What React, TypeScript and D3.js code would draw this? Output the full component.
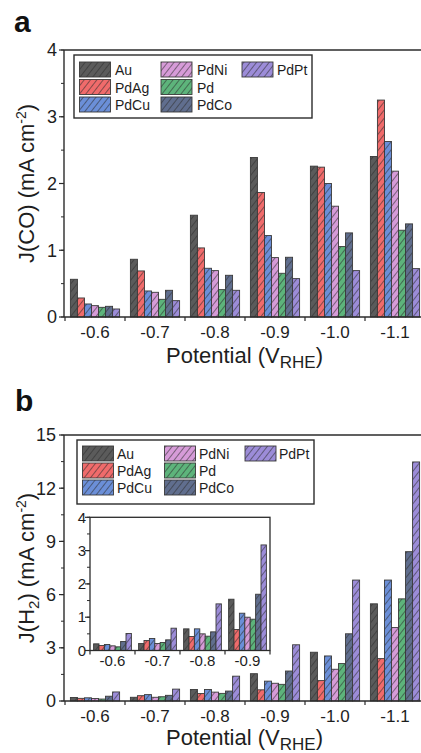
import React from "react";
import * as d3 from "d3";

const potentials = ["-0.6", "-0.7", "-0.8", "-0.9", "-1.0", "-1.1"];
const insetPotentials = ["-0.6", "-0.7", "-0.8", "-0.9"];
const seriesNames = ["Au", "PdAg", "PdCu", "PdNi", "Pd", "PdCo", "PdPt"];
const seriesColors = ["#5b5b5b", "#f06b6b", "#6b8fd8", "#d69bd8", "#5db47b", "#606e8e", "#9c8cd8"];

// J(CO) values, mA cm-2
const coAu = [0.565, 0.865, 1.525, 2.39, 2.26, 2.405];
const coPdAg = [0.285, 0.69, 1.035, 1.865, 2.245, 3.25];
const coPdCu = [0.195, 0.39, 0.73, 1.22, 2.0, 2.63];
const coPdNi = [0.17, 0.37, 0.695, 0.89, 1.66, 2.185];
const coPd = [0.145, 0.265, 0.41, 0.655, 1.055, 1.3];
const coPdCo = [0.16, 0.4, 0.625, 0.895, 1.26, 1.395];
const coPdPt = [0.12, 0.245, 0.4, 0.575, 0.695, 0.725];

// J(H2) values, mA cm-2
const h2Au = [0.2, 0.21, 0.65, 1.54, 2.75, 5.48];
const h2PdAg = [0.15, 0.3, 0.42, 0.63, 1.15, 2.39];
const h2PdCu = [0.18, 0.36, 0.65, 1.12, 2.54, 6.82];
const h2PdNi = [0.14, 0.21, 0.5, 1.0, 1.79, 4.14];
const h2Pd = [0.11, 0.24, 0.43, 0.94, 2.11, 5.76];
const h2PdCo = [0.27, 0.32, 0.56, 1.69, 3.79, 8.42];
const h2PdPt = [0.51, 0.67, 1.4, 3.17, 6.82, 13.48];

const coTicks = [0, 1, 2, 3, 4];
const h2Ticks = [0, 3, 6, 9, 12, 15];
const insetTicks = [0, 1, 2, 3, 4];

const coSeries = [coAu, coPdAg, coPdCu, coPdNi, coPd, coPdCo, coPdPt];
const h2Series = [h2Au, h2PdAg, h2PdCu, h2PdNi, h2Pd, h2PdCo, h2PdPt];

const FONT = "'Liberation Sans', Arial, Helvetica, sans-serif";
const AX = "#2b2b2b";
const TXT = "#1e1e1e";

function Bars({ cats, series, x, y, frac }) {
  const band = x.bandwidth();
  const inner = d3
    .scaleBand()
    .domain(seriesNames)
    .range([(band * (1 - frac)) / 2, band - (band * (1 - frac)) / 2])
    .padding(0);
  return (
    <g>
      {cats.map((c, ci) =>
        seriesNames.map((s, si) => {
          const v = series[si][ci];
          const x0 = (x(c) as number) + (inner(s) as number);
          const y0 = y(v);
          return (
            <rect
              key={c + s}
              x={x0}
              y={y0}
              width={inner.bandwidth()}
              height={y(0) - y0}
              fill={`url(#hatch${si})`}
              stroke="#3a3a3a"
              strokeWidth={0.9}
            />
          );
        })
      )}
    </g>
  );
}

function YAxis({ y, ticks, x0, fontSize, labelX, minorStep }) {
  const dom = y.domain();
  const minors = d3.range(dom[0], dom[1] + 1e-9, minorStep);
  return (
    <g>
      {minors.map((t) => (
        <line key={"m" + t} x1={x0 - 3} x2={x0} y1={y(t)} y2={y(t)} stroke={AX} strokeWidth={1} />
      ))}
      {ticks.map((t) => (
        <g key={t}>
          <line x1={x0 - 5} x2={x0} y1={y(t)} y2={y(t)} stroke={AX} strokeWidth={1.2} />
          <text
            x={labelX}
            y={y(t)}
            dy="0.35em"
            textAnchor="end"
            fontSize={fontSize}
            fontFamily={FONT}
            fill={TXT}
          >
            {t}
          </text>
        </g>
      ))}
    </g>
  );
}

function XAxis({ x, cats, y0, fontSize, labelY }) {
  const band = x.bandwidth();
  const r = x.range();
  const bounds = d3.range(0, cats.length + 1).map((i) => r[0] + i * band);
  return (
    <g>
      {bounds.map((b, i) => (
        <line key={i} x1={b} x2={b} y1={y0} y2={y0 + 4} stroke={AX} strokeWidth={1.2} />
      ))}
      {cats.map((c) => (
        <text
          key={c}
          x={(x(c) as number) + band / 2}
          y={labelY}
          textAnchor="middle"
          fontSize={fontSize}
          fontFamily={FONT}
          fill={TXT}
        >
          {c}
        </text>
      ))}
    </g>
  );
}

function Legend({ x, y, w, h, colX, textX, rowY }) {
  const cols = [
    [0, 1, 2],
    [3, 4, 5],
    [6],
  ];
  return (
    <g>
      <rect x={x} y={y} width={w} height={h} fill="white" stroke={AX} strokeWidth={1.4} />
      {cols.map((col, ci) =>
        col.map((si, ri) => (
          <g key={si}>
            <rect
              x={colX[ci]}
              y={rowY[ri]}
              width={31}
              height={15}
              fill={`url(#hatch${si})`}
              stroke="#3a3a3a"
              strokeWidth={0.9}
            />
            <text
              x={textX[ci]}
              y={rowY[ri] + 13}
              fontSize={14}
              fontFamily={FONT}
              fill={TXT}
            >
              {seriesNames[si]}
            </text>
          </g>
        ))
      )}
    </g>
  );
}

export default function App() {
  const W = 421;
  const H = 753;
  const left = 64;
  const right = 425;

  // panel a
  const xa = d3.scaleBand().domain(potentials).range([left + 1, right]).padding(0);
  const ya = d3.scaleLinear().domain([0, 4]).range([317, 50]);

  // panel b
  const xb = d3.scaleBand().domain(potentials).range([left + 1, right]).padding(0);
  const yb = d3.scaleLinear().domain([0, 15]).range([701, 435]);

  // inset
  const xi = d3.scaleBand().domain(insetPotentials).range([90, 270]).padding(0);
  const yi = d3.scaleLinear().domain([0, 4]).range([650.5, 517.3]);
  const h2Inset = h2Series.map((s) => s.slice(0, insetPotentials.length));

  return (
    <svg
      width={W}
      height={H}
      style={{ position: "absolute", left: 0, top: 0, background: "white" }}
    >
      <defs>
        {seriesColors.map((c, i) => (
          <pattern
            key={i}
            id={`hatch${i}`}
            patternUnits="userSpaceOnUse"
            width={5}
            height={5}
            patternTransform="rotate(38)"
          >
            <rect width={5} height={5} fill={c} />
            <line x1={0.5} y1={0} x2={0.5} y2={5} stroke="#2e2e2e" strokeOpacity={0.7} strokeWidth={0.8} />
          </pattern>
        ))}
      </defs>
      <rect x={0} y={0} width={W} height={H} fill="white" />

      {/* Panel a */}
      <text x={14} y={32} fontSize={30} fontWeight="bold" fontFamily={FONT} fill="#111">
        a
      </text>
      <Bars cats={potentials} series={coSeries} x={xa} y={ya} frac={0.82} />
      <line x1={left} x2={right} y1={ya(4)} y2={ya(4)} stroke={AX} strokeWidth={1.4} />
      <line x1={left} x2={left} y1={ya(4)} y2={ya(0)} stroke={AX} strokeWidth={1.4} />
      <line x1={left} x2={right} y1={ya(0)} y2={ya(0)} stroke={AX} strokeWidth={1.4} />
      <YAxis y={ya} ticks={coTicks} x0={left} fontSize={18} labelX={57} minorStep={0.5} />
      <XAxis x={xa} cats={potentials} y0={ya(0)} fontSize={17} labelY={338} />
      <Legend
        x={74}
        y={55}
        w={238}
        h={63}
        colX={[79.5, 161, 242]}
        textX={[115, 197, 277]}
        rowY={[62, 79.5, 97]}
      />
      <text
        transform={`translate(34,${(ya(0) + ya(4)) / 2}) rotate(-90)`}
        textAnchor="middle"
        fontSize={22}
        fontFamily={FONT}
        fill={TXT}
      >
        J(CO) (mA cm
        <tspan fontSize={14} dy={-8}>
          -2
        </tspan>
        <tspan dy={8}>)</tspan>
      </text>
      <text x={(left + right) / 2} y={363} textAnchor="middle" fontSize={22} fontFamily={FONT} fill={TXT}>
        Potential (V
        <tspan fontSize={17} dy={5}>
          RHE
        </tspan>
        <tspan dy={-5}>)</tspan>
      </text>

      {/* Panel b */}
      <text x={15} y={411} fontSize={30} fontWeight="bold" fontFamily={FONT} fill="#111">
        b
      </text>
      <Bars cats={potentials} series={h2Series} x={xb} y={yb} frac={0.82} />
      <line x1={left} x2={right} y1={yb(15)} y2={yb(15)} stroke={AX} strokeWidth={1.4} />
      <line x1={left} x2={left} y1={yb(15)} y2={yb(0)} stroke={AX} strokeWidth={1.4} />
      <line x1={left} x2={right} y1={yb(0)} y2={yb(0)} stroke={AX} strokeWidth={1.4} />
      <YAxis y={yb} ticks={h2Ticks} x0={left} fontSize={18} labelX={56} minorStep={1.5} />
      <XAxis x={xb} cats={potentials} y0={yb(0)} fontSize={17} labelY={722} />
      <Legend
        x={77}
        y={440}
        w={237}
        h={64}
        colX={[82.5, 164.5, 245]}
        textX={[117, 199, 279]}
        rowY={[446, 463, 480]}
      />
      <text
        transform={`translate(34,${(yb(0) + yb(15)) / 2}) rotate(-90)`}
        textAnchor="middle"
        fontSize={22}
        fontFamily={FONT}
        fill={TXT}
      >
        J(H
        <tspan fontSize={15} dy={5}>
          2
        </tspan>
        <tspan dy={-5}>) (mA cm</tspan>
        <tspan fontSize={14} dy={-8}>
          -2
        </tspan>
        <tspan dy={8}>)</tspan>
      </text>
      <text x={(left + right) / 2} y={745} textAnchor="middle" fontSize={22} fontFamily={FONT} fill={TXT}>
        Potential (V
        <tspan fontSize={17} dy={5}>
          RHE
        </tspan>
        <tspan dy={-5}>)</tspan>
      </text>

      {/* Inset */}
      <rect x={90} y={yi(4)} width={180} height={yi(0) - yi(4)} fill="white" />
      <Bars cats={insetPotentials} series={h2Inset} x={xi} y={yi} frac={0.84} />
      <rect
        x={90}
        y={yi(4)}
        width={180}
        height={yi(0) - yi(4)}
        fill="none"
        stroke={AX}
        strokeWidth={1.3}
      />
      <YAxis y={yi} ticks={insetTicks} x0={90} fontSize={15} labelX={86} minorStep={0.5} />
      <XAxis x={xi} cats={insetPotentials} y0={yi(0)} fontSize={15} labelY={666} />
    </svg>
  );
}
